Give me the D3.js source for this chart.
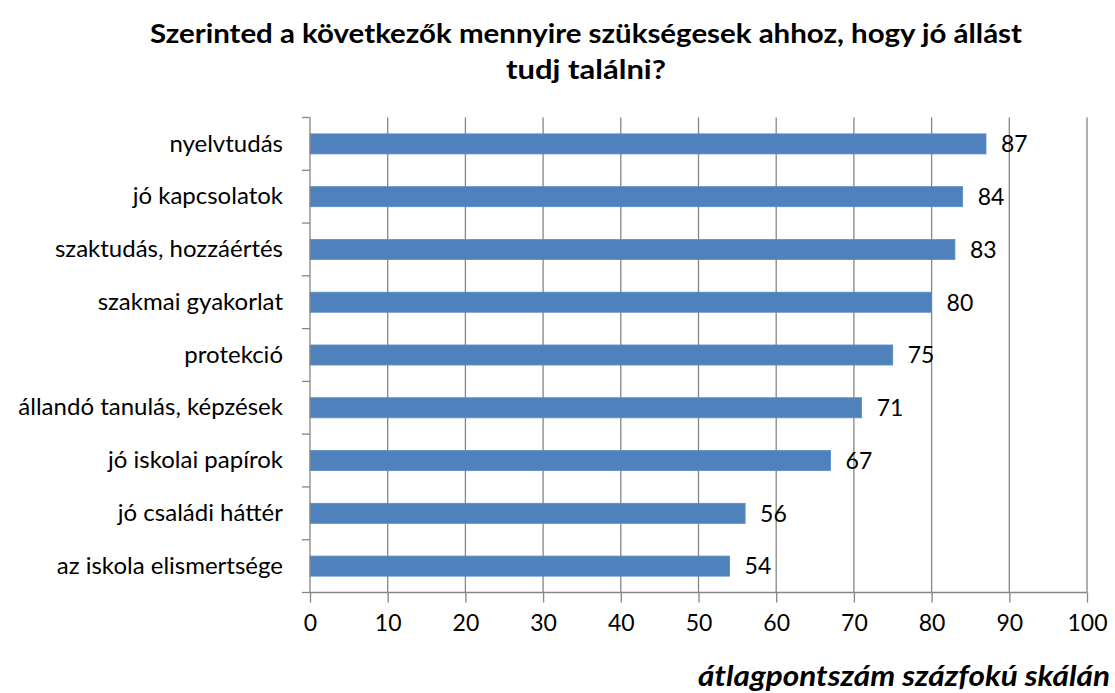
<!DOCTYPE html>
<html>
<head>
<meta charset="utf-8">
<script src="https://cdn.jsdelivr.net/npm/d3@7"></script>
<style>
  html, body { margin: 0; padding: 0; background: #fff; }
  svg { display: block; }
  text { font-family: Lato, "Open Sans", sans-serif; fill: #000; }
</style>
</head>
<body>
<svg id="chart" width="1115" height="693"></svg>
<script>
const categories = [
  "nyelvtudás",
  "jó kapcsolatok",
  "szaktudás, hozzáértés",
  "szakmai gyakorlat",
  "protekció",
  "állandó tanulás, képzések",
  "jó iskolai papírok",
  "jó családi háttér",
  "az iskola elismertsége"
];
const values = [87, 84, 83, 80, 75, 71, 67, 56, 54];
const xTicks = [0, 10, 20, 30, 40, 50, 60, 70, 80, 90, 100];
const titleLines = ["Szerinted a következők mennyire szükségesek ahhoz, hogy jó állást", "tudj találni?"];
const axisTitle = "átlagpontszám százfokú skálán";

(function () {
const svg = d3.select("#chart");
const pLeft = 310, pRight = 1087, pTop = 117.5, pBottom = 592.5;

const x = d3.scaleLinear().domain([0, 100]).range([pLeft, pRight]);
const y = d3.scaleBand().domain(categories).range([pTop, pBottom]).paddingInner(0.62).paddingOuter(0.31);

const gridColor = "#868686";

// gridlines
svg.append("g").selectAll("line").data(xTicks.filter(d => d > 0)).join("line")
  .attr("x1", d => x(d)).attr("x2", d => x(d))
  .attr("y1", pTop).attr("y2", pBottom)
  .attr("stroke", gridColor).attr("stroke-width", 1.3);

// bars
svg.append("g").selectAll("rect").data(values).join("rect")
  .attr("x", x(0))
  .attr("y", (d, i) => y(categories[i]))
  .attr("width", d => x(d) - x(0))
  .attr("height", y.bandwidth())
  .attr("fill", "#4F81BD")
  .attr("stroke", "#5B8CC8").attr("stroke-width", 0.8);

// x axis
const xAxis = d3.axisBottom(x).tickValues(xTicks).tickSize(10).tickPadding(12).tickFormat(d3.format("d"));
const gx = svg.append("g").attr("transform", `translate(0,${pBottom})`).call(xAxis);
gx.select(".domain").attr("stroke", gridColor).attr("stroke-width", 1.3).attr("d", `M${pLeft},0H${pRight}`);
gx.selectAll(".tick line").attr("stroke", gridColor).attr("stroke-width", 1.3);
gx.selectAll(".tick text").attr("font-size", 23).attr("font-family", "Lato, sans-serif").attr("fill", "#000").attr("dy", "0.71em");

// y axis
const yBoundary = d3.scaleLinear().domain([0, categories.length]).range([pTop, pBottom]);
const yAxis = d3.axisLeft(y).tickSize(0).tickPadding(27);
const gy = svg.append("g").attr("transform", `translate(${pLeft},0)`).call(yAxis);
gy.select(".domain").attr("stroke", gridColor).attr("stroke-width", 1.3).attr("d", `M0,${pTop}V${pBottom}`);
gy.selectAll(".tick text").attr("font-size", 24).attr("font-family", "Lato, sans-serif").attr("fill", "#000");
svg.append("g").selectAll("line").data(d3.range(categories.length + 1)).join("line")
  .attr("x1", pLeft - 8).attr("x2", pLeft)
  .attr("y1", d => yBoundary(d)).attr("y2", d => yBoundary(d))
  .attr("stroke", gridColor).attr("stroke-width", 1.3);

// value labels
svg.append("g").selectAll("text").data(values).join("text")
  .attr("x", d => x(d) + 15)
  .attr("y", (d, i) => y(categories[i]) + y.bandwidth() / 2)
  .attr("dy", "0.36em")
  .attr("font-size", 23)
  .text(d => d);

// title
const titleWidths = [872, 160];
svg.append("g").selectAll("text").data(titleLines).join("text")
  .attr("x", 586).attr("y", (d, i) => 43 + i * 36)
  .attr("text-anchor", "middle")
  .attr("font-weight", "bold")
  .attr("font-size", 27)
  .attr("textLength", (d, i) => titleWidths[i])
  .attr("lengthAdjust", "spacingAndGlyphs")
  .text(d => d);

// axis title
svg.append("text")
  .attr("x", 1110).attr("y", 686)
  .attr("text-anchor", "end")
  .attr("font-weight", "bold").attr("font-style", "italic")
  .attr("font-size", 29)
  .attr("textLength", 412)
  .attr("lengthAdjust", "spacingAndGlyphs")
  .text(axisTitle);
})();
</script>
</body>
</html>
